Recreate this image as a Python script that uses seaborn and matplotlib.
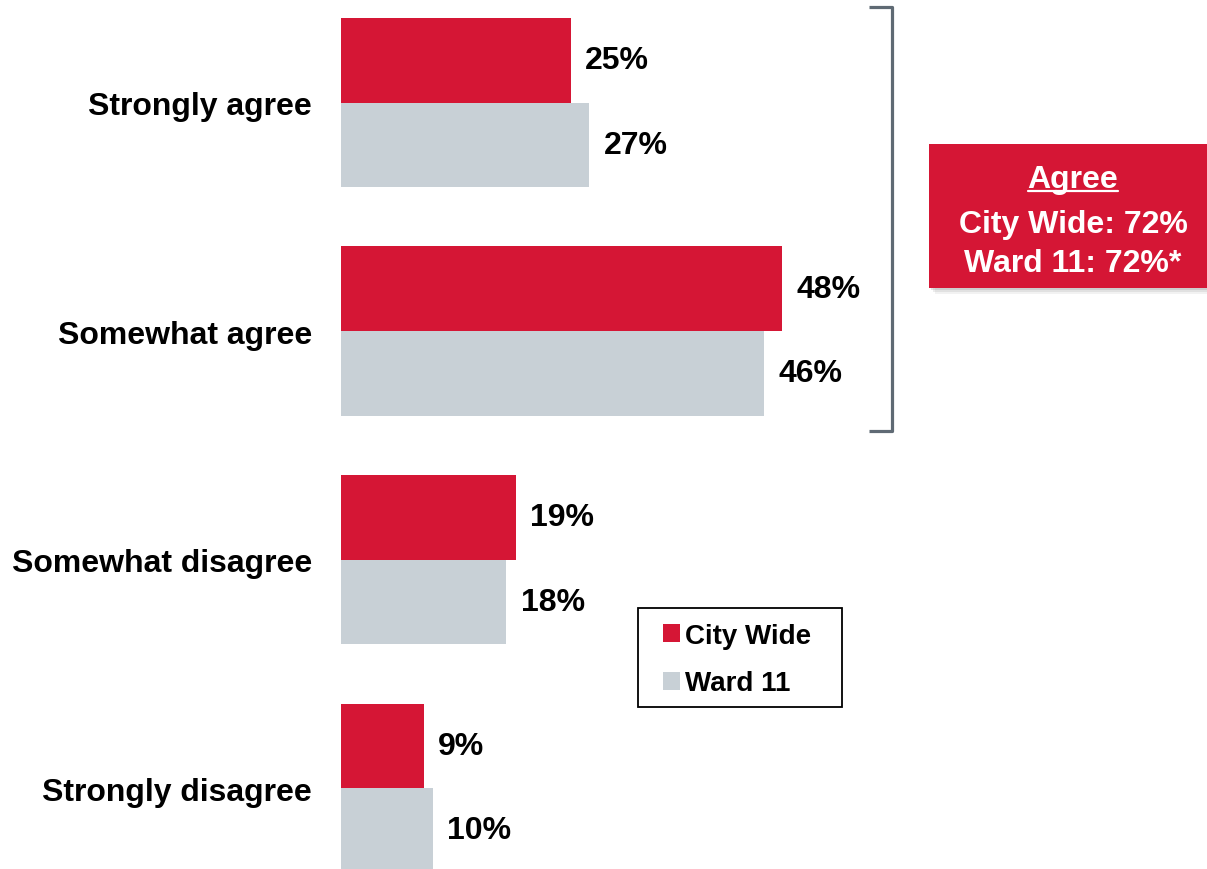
import matplotlib
matplotlib.use("Agg")
import matplotlib.pyplot as plt
import seaborn as sns
import pandas as pd
from matplotlib.patches import Rectangle, Patch
from matplotlib.lines import Line2D

# Survey responses (percent)
categories = ["Strongly agree", "Somewhat agree", "Somewhat disagree", "Strongly disagree"]
city_wide = [25, 48, 19, 9]
ward_11 = [27, 46, 18, 10]
series = ["City Wide", "Ward 11"]
colors = ["#D51635", "#C8D0D6"]

agree_title = "Agree"
agree_lines = ["City Wide: 72%", "Ward 11: 72%*"]

df = pd.DataFrame({
    "category": categories * 2,
    "value": city_wide + ward_11,
    "series": [series[0]] * len(categories) + [series[1]] * len(categories),
})

sns.set_theme(style="white")
plt.rcParams["font.family"] = ["Liberation Sans", "DejaVu Sans"]
plt.rcParams["text.color"] = "black"

FS = 23
W, H = 1207, 870
fig = plt.figure(figsize=(W / 100, H / 100), dpi=100)
ax = fig.add_axes([341 / W, 0, (1168 - 341) / W, 1])

sns.barplot(data=df, y="category", x="value", hue="series", orient="h",
            palette=colors, width=0.74, saturation=1, errorbar=None,
            linewidth=0, legend=False, ax=ax)

ax.set_xlim(0, 90)
ax.set_ylim(3.354, -0.453)
ax.set_xlabel("")
ax.set_ylabel("")
ax.set_xticks([])
for s in ax.spines.values():
    s.set_visible(False)
ax.tick_params(axis="y", length=0, pad=21, labelsize=FS, labelcolor="black")
for lab in ax.get_yticklabels():
    lab.set_fontweight("bold")

for cont in ax.containers:
    ax.bar_label(cont, labels=[f"{v:.0f}%" for v in cont.datavalues],
                 padding=10.5, fontsize=FS, fontweight="bold", color="black")

px = lambda x, y: (x / W, 1 - y / H)

# Legend: entries plus a plain black frame around them
handles = [Patch(facecolor=c, edgecolor="none", label=s) for s, c in zip(series, colors)]
leg = fig.legend(handles=handles, loc="upper left",
                 bbox_to_anchor=px(663, 624), bbox_transform=fig.transFigure,
                 borderaxespad=0, borderpad=0, frameon=False,
                 handlelength=0.62, handleheight=0.62, handletextpad=0.18,
                 labelspacing=0.77, labelcolor="black",
                 prop={"size": 20, "weight": "bold"})
fig.add_artist(Rectangle(px(638, 708), (842 - 638) / W, (708 - 609) / H,
                         transform=fig.transFigure, facecolor="none",
                         edgecolor="black", lw=1.3))

# Bracket grouping the two "agree" rows
bx = [869, 892, 892, 869]
by = [8, 8, 432, 432]
pts = [px(x, y) for x, y in zip(bx, by)]
fig.add_artist(Line2D([p[0] for p in pts], [p[1] for p in pts],
                      transform=fig.transFigure, color="#5F6A74", lw=2.3,
                      solid_joinstyle="round", solid_capstyle="butt"))

# Summary box with soft shadow
x0, y0, x1, y1 = 929, 145, 1207, 289
for off, a in [(6, 0.10), (4, 0.15), (2, 0.2)]:
    fig.add_artist(Rectangle(px(x0 + off, y1 + off), (x1 - x0) / W, (y1 - y0) / H,
                             transform=fig.transFigure, facecolor="#808080",
                             edgecolor="none", alpha=a))
fig.add_artist(Rectangle(px(x0, y1), (x1 - x0) / W, (y1 - y0) / H,
                         transform=fig.transFigure, facecolor=colors[0], edgecolor="none"))

cx = 1073 / W
t = fig.text(cx, 1 - 188 / H, agree_title, ha="center", va="baseline",
             color="white", fontsize=FS, fontweight="bold")
fig.text(cx, 1 - 233 / H, agree_lines[0], ha="center", va="baseline",
         color="white", fontsize=FS, fontweight="bold")
fig.text(cx, 1 - 272 / H, agree_lines[1], ha="center", va="baseline",
         color="white", fontsize=FS, fontweight="bold")

# Underline the box title
fig.canvas.draw()
bb = t.get_window_extent()
uy = (H - 192) / H
fig.add_artist(Line2D([bb.x0 / W, bb.x1 / W], [uy, uy], transform=fig.transFigure,
                      color="white", lw=1.6))

fig.savefig("out.png", dpi=100, facecolor="white")
